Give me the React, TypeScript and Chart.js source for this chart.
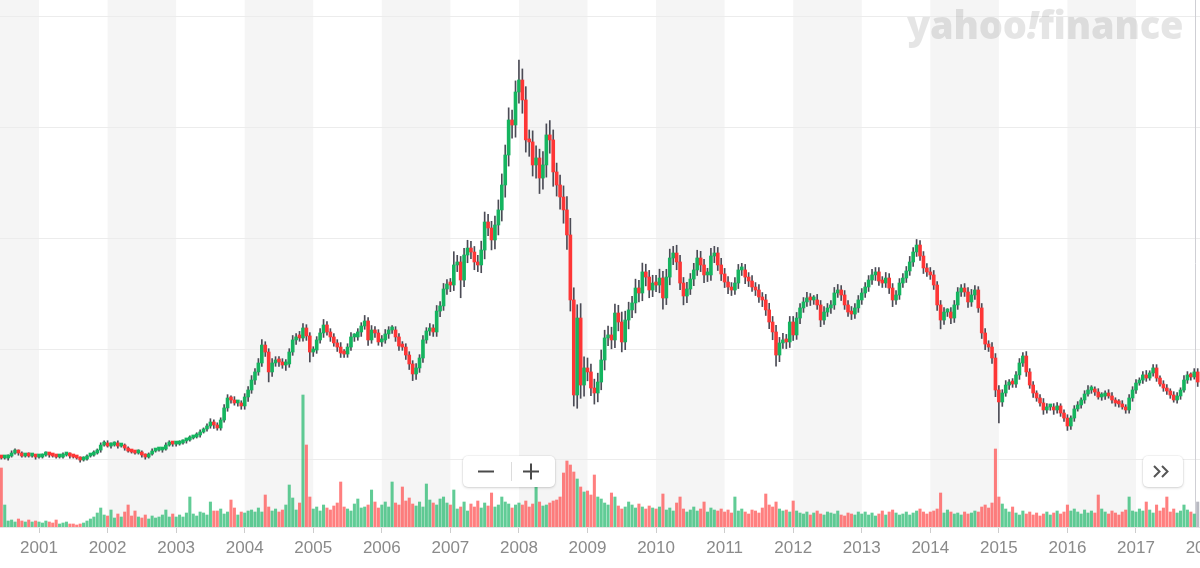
import React, { useEffect, useRef } from "react";
import { Chart, registerables } from "chart.js";

Chart.register(...registerables);

// ---- data (semi-monthly periods, 20 per year, starting mid-2000) ----
const periodStart = 2000.45;
const periodsPerYear = 20;
const firstOpen = 10.27;

const closes = [
  10.18, 10.18, 10.36, 10.63, 10.81, 10.63, 10.36, 10.45, 10.36, 10.36, 10.27,
  10.27, 10.45, 10.54, 10.45, 10.36, 10.27, 10.27, 10.45, 10.54, 10.36, 10.27, 10.18, 10.0, 10.09, 10.36, 10.45, 10.63, 10.9, 11.35, 11.54,
  11.26, 11.35, 11.54, 11.26, 11.35, 11.08, 10.81, 10.72, 10.63, 10.72, 10.45, 10.27, 10.54, 10.81, 10.9, 10.9, 10.99, 11.35, 11.54, 11.44,
  11.44, 11.54, 11.72, 11.81, 11.99, 12.08, 12.26, 12.53, 12.8, 13.07, 13.43, 13.16, 12.89, 13.61, 14.7, 15.6, 15.42, 15.15, 15.15, 14.88,
  15.69, 16.32, 17.22, 17.95, 18.76, 20.38, 19.75, 17.95, 18.76, 19.03, 18.85, 18.58, 18.67, 19.75, 20.84, 21.11, 21.02, 21.92, 21.2, 19.75,
  19.93, 20.84, 21.47, 22.19, 21.56, 21.11, 20.57, 20.2, 19.66, 19.57, 20.2, 21.11, 21.11, 21.56, 22.1, 22.55, 20.84, 21.74, 21.47, 20.66,
  20.84, 21.38, 21.74, 21.74, 21.11, 20.29, 20.2, 19.48, 18.67, 17.77, 18.31, 19.21, 20.84, 21.65, 21.92, 21.56, 23.45, 23.91, 25.44, 25.89,
  25.8, 27.61, 27.88, 26.25, 28.51, 29.14, 28.78, 27.88, 27.61, 28.96, 31.49, 30.95, 29.87, 31.22, 32.58, 34.83, 37.54, 40.7, 40.25, 43.23,
  44.31, 42.51, 38.9, 38.72, 36.64, 37.27, 35.46, 36.64, 39.35, 38.9, 36.01, 34.83, 33.75, 32.58, 30.32, 24.45, 15.87, 22.82, 16.77, 18.31,
  17.95, 16.5, 16.05, 17.04, 19.03, 21.02, 21.29, 20.84, 23.27, 22.46, 20.66, 22.64, 23.55, 24.18, 25.53, 25.08, 26.98, 26.52, 25.35, 25.98,
  25.8, 26.43, 24.63, 26.52, 28.24, 28.69, 27.88, 25.98, 24.81, 25.44, 26.34, 27.16, 28.24, 27.61, 26.71, 26.71, 28.42, 28.69, 27.61, 26.8,
  26.07, 25.62, 25.35, 25.98, 27.16, 27.16, 26.52, 26.16, 25.62, 25.35, 24.72, 24.45, 23.55, 22.46, 21.56, 19.48, 20.57, 20.84, 20.66, 22.46,
  21.29, 22.82, 23.73, 24.27, 24.63, 24.45, 24.45, 24.0, 22.64, 23.36, 23.73, 24.0, 25.08, 25.35, 24.9, 24.0, 23.36, 23.18, 23.73, 24.45,
  25.08, 25.62, 26.25, 26.71, 26.98, 26.16, 25.98, 26.43, 25.53, 24.45, 24.9, 25.98, 26.43, 27.07, 27.88, 28.78, 29.41, 28.42, 27.34, 26.98,
  26.71, 25.8, 24.0, 22.64, 23.36, 23.36, 22.82, 24.0, 25.17, 25.53, 25.17, 24.27, 24.9, 25.35, 23.73, 21.47, 20.47, 20.2, 19.21, 16.32,
  15.24, 16.05, 16.77, 16.95, 16.86, 17.68, 18.76, 19.39, 17.95, 16.77, 16.05, 15.6, 15.15, 14.52, 14.79, 14.79, 14.52, 14.88, 14.24, 13.79,
  13.07, 13.79, 14.61, 14.97, 15.42, 15.96, 16.32, 16.41, 16.14, 15.69, 15.78, 16.05, 15.78, 15.42, 15.15, 15.06, 14.79, 14.52, 15.6, 16.32,
  16.95, 17.22, 17.68, 17.4, 17.86, 18.31, 17.4, 16.86, 16.5, 16.23, 15.87, 15.42, 15.78, 16.32, 17.22, 17.68, 17.5, 17.95, 17.04,
];

// wick length above the body / below the body (price units)
const wickUp = [
  0.1, 0.2, 0.1, 0.2, 0.2, 0.1, 0.1, 0.1, 0.2, 0.1, 0.1,
  0.1, 0.1, 0.2, 0.1, 0.1, 0.1, 0.1, 0.2, 0.1, 0.1, 0.1, 0.1, 0.1, 0.2, 0.1, 0.1, 0.2, 0.1, 0.2, 0.2,
  0.2, 0.2, 0.1, 0.2, 0.1, 0.1, 0.1, 0.1, 0.1, 0.2, 0.1, 0.1, 0.1, 0.2, 0.1, 0.1, 0.1, 0.2, 0.2, 0.1,
  0.1, 0.2, 0.1, 0.1, 0.2, 0.1, 0.2, 0.2, 0.1, 0.2, 0.3, 0.2, 0.2, 0.2, 0.3, 0.3, 0.2, 0.3, 0.2, 0.2,
  0.3, 0.3, 0.4, 0.3, 0.4, 0.5, 0.3, 0.3, 0.4, 0.3, 0.3, 0.3, 0.4, 0.3, 0.4, 0.3, 0.5, 0.4, 0.3, 0.3,
  0.3, 0.3, 0.4, 0.5, 0.3, 0.3, 0.3, 0.3, 0.4, 0.3, 0.3, 0.4, 0.3, 0.3, 0.3, 0.5, 0.3, 0.4, 0.3, 0.3,
  0.4, 0.4, 0.3, 0.4, 0.3, 0.3, 0.4, 0.3, 0.3, 0.3, 0.4, 0.3, 0.4, 0.3, 0.4, 0.3, 0.5, 0.4, 0.5, 0.4,
  0.5, 1.2, 0.6, 0.5, 0.6, 0.7, 0.6, 0.5, 0.6, 0.8, 0.9, 0.7, 0.6, 0.8, 0.9, 1.0, 0.9, 1.1, 0.9, 1.0,
  1.8, 1.0, 1.2, 0.9, 1.0, 1.1, 0.8, 1.2, 1.0, 1.3, 0.9, 0.8, 0.9, 1.0, 1.2, 1.5, 1.1, 1.2, 1.3, 1.0,
  0.9, 0.7, 0.8, 0.8, 0.9, 0.7, 0.8, 0.7, 0.8, 0.7, 0.9, 0.8, 0.7, 0.6, 0.8, 0.7, 0.8, 0.7, 0.6, 0.7,
  0.7, 0.8, 0.6, 0.7, 0.8, 0.6, 0.7, 0.6, 0.5, 0.6, 0.5, 0.6, 0.7, 0.6, 0.5, 0.6, 0.7, 0.6, 0.5, 0.6,
  0.5, 0.5, 0.4, 0.5, 0.5, 0.6, 0.5, 0.4, 0.5, 0.4, 0.5, 0.4, 0.5, 0.6, 0.5, 0.6, 0.5, 0.6, 0.5, 0.5,
  0.5, 0.5, 0.4, 0.4, 0.5, 0.4, 0.4, 0.5, 0.4, 0.5, 0.4, 0.4, 0.5, 0.5, 0.4, 0.4, 0.4, 0.5, 0.4, 0.4,
  0.4, 0.4, 0.4, 0.5, 0.4, 0.4, 0.4, 0.5, 0.4, 0.4, 0.4, 0.4, 0.4, 0.4, 0.5, 0.4, 0.5, 0.4, 0.4, 0.4,
  0.4, 0.4, 0.3, 0.4, 0.4, 0.3, 0.4, 0.4, 0.4, 0.3, 0.4, 0.4, 0.5, 0.4, 0.3, 0.4, 0.4, 0.3, 0.4, 0.4,
  0.4, 0.3, 0.4, 0.3, 0.4, 0.3, 0.4, 0.3, 0.4, 0.3, 0.3, 0.2, 0.3, 0.4, 0.3, 0.2, 0.3, 0.3, 0.2, 0.3,
  0.3, 0.2, 0.3, 0.3, 0.2, 0.3, 0.4, 0.3, 0.2, 0.3, 0.3, 0.2, 0.3, 0.3, 0.2, 0.3, 0.3, 0.2, 0.3, 0.3,
  0.3, 0.2, 0.3, 0.4, 0.2, 0.3, 0.3, 0.2, 0.3, 0.3, 0.2, 0.3, 0.3, 0.2, 0.4, 0.3, 0.2, 0.3, 0.3,
];

const wickDown = [
  0.1, 0.1, 0.2, 0.1, 0.1, 0.2, 0.1, 0.1, 0.1, 0.1, 0.2,
  0.1, 0.1, 0.1, 0.2, 0.1, 0.1, 0.1, 0.1, 0.1, 0.2, 0.1, 0.1, 0.2, 0.1, 0.1, 0.1, 0.1, 0.1, 0.2, 0.1,
  0.1, 0.2, 0.1, 0.2, 0.1, 0.2, 0.1, 0.1, 0.1, 0.1, 0.2, 0.2, 0.1, 0.1, 0.1, 0.1, 0.2, 0.1, 0.1, 0.2,
  0.2, 0.1, 0.1, 0.2, 0.1, 0.1, 0.1, 0.2, 0.1, 0.2, 0.2, 0.3, 0.2, 0.2, 0.2, 0.3, 0.3, 0.2, 0.3, 0.3,
  0.3, 0.4, 0.3, 0.4, 0.3, 0.3, 0.4, 0.9, 0.4, 0.3, 0.4, 0.3, 0.5, 0.3, 0.3, 0.4, 0.3, 0.3, 0.4, 0.9,
  0.4, 0.3, 0.3, 0.4, 0.3, 0.4, 0.3, 0.4, 0.4, 0.3, 0.3, 0.3, 0.4, 0.3, 0.4, 0.3, 0.5, 0.3, 0.4, 0.3,
  0.4, 0.3, 0.4, 0.3, 0.4, 0.4, 0.3, 0.4, 0.5, 0.6, 0.5, 0.4, 0.4, 0.3, 0.4, 0.4, 0.4, 0.5, 0.4, 0.5,
  0.6, 0.5, 0.6, 1.6, 0.6, 0.7, 0.6, 0.7, 0.6, 0.7, 0.8, 0.7, 0.9, 0.8, 0.9, 1.0, 1.1, 1.0, 1.2, 1.1,
  1.0, 1.2, 1.1, 1.3, 1.0, 1.2, 1.4, 1.0, 1.1, 1.2, 1.3, 1.0, 1.1, 1.2, 1.3, 1.0, 1.0, 1.2, 1.2, 1.0,
  0.8, 0.7, 1.0, 0.8, 0.7, 0.9, 0.7, 0.8, 0.7, 0.8, 0.9, 0.7, 0.8, 0.7, 0.9, 0.8, 0.7, 0.8, 0.7, 0.6,
  0.6, 0.7, 1.0, 0.6, 0.7, 0.6, 0.7, 0.6, 0.8, 0.6, 0.5, 0.6, 0.5, 0.6, 0.7, 0.6, 0.5, 0.6, 0.5, 0.6,
  0.5, 0.6, 0.5, 0.4, 0.5, 0.5, 0.6, 0.5, 0.4, 0.5, 0.5, 0.6, 0.5, 0.6, 0.7, 1.0, 0.6, 0.5, 0.6, 0.5,
  0.5, 0.4, 0.5, 0.4, 0.4, 0.5, 0.4, 0.4, 0.6, 0.4, 0.4, 0.5, 0.4, 0.4, 0.5, 0.4, 0.4, 0.5, 0.4, 0.4,
  0.4, 0.4, 0.4, 0.4, 0.5, 0.4, 0.4, 0.4, 0.5, 0.6, 0.4, 0.4, 0.4, 0.4, 0.4, 0.4, 0.4, 0.4, 0.5, 0.4,
  0.4, 0.4, 0.5, 0.8, 0.4, 0.4, 0.5, 0.4, 0.4, 0.4, 0.4, 0.5, 0.4, 0.4, 0.4, 0.5, 0.5, 0.4, 0.5, 0.6,
  1.9, 0.4, 0.3, 0.4, 0.3, 0.3, 0.4, 0.3, 0.4, 0.3, 0.4, 0.3, 0.3, 0.4, 0.3, 0.3, 0.4, 0.3, 0.3, 0.3,
  0.4, 0.3, 0.3, 0.2, 0.3, 0.3, 0.2, 0.3, 0.3, 0.2, 0.3, 0.3, 0.2, 0.3, 0.3, 0.3, 0.2, 0.3, 0.3, 0.3,
  0.3, 0.2, 0.3, 0.3, 0.2, 0.3, 0.3, 0.2, 0.3, 0.3, 0.3, 0.2, 0.3, 0.3, 0.2, 0.3, 0.3, 0.2, 0.4,
];

// volume (millions)
const volumes = [
  5.9, 2.2, 0.6, 0.7, 0.5, 0.8, 0.6, 0.5, 0.7, 0.5, 0.6,
  0.5, 0.4, 0.6, 0.5, 0.4, 0.7, 0.3, 0.4, 0.5, 0.3, 0.3, 0.2, 0.3, 0.4, 0.6, 0.8, 1.0, 1.4, 1.9, 1.2,
  1.1, 1.7, 0.9, 1.3, 1.0, 1.5, 2.2, 1.1, 1.6, 1.0, 0.9, 1.2, 0.8, 1.1, 0.9, 1.0, 1.2, 1.7, 1.0, 1.3,
  1.0, 1.2, 1.0, 1.4, 3.0, 1.3, 1.1, 1.5, 1.4, 1.2, 2.5, 1.6, 1.6, 1.8, 1.3, 1.5, 2.7, 1.9, 1.2, 1.5,
  1.4, 1.6, 1.7, 1.5, 1.9, 1.5, 3.2, 2.0, 1.6, 1.8, 1.5, 1.7, 2.2, 4.2, 2.9, 1.7, 2.4, 13.2, 8.2, 3.0,
  1.8, 2.0, 1.6, 2.2, 1.9, 1.7, 2.1, 2.4, 4.5, 2.0, 1.8, 1.6, 2.3, 2.8, 1.9, 2.0, 2.2, 3.7, 2.5, 1.9,
  2.2, 2.5, 2.0, 4.5, 2.4, 2.2, 4.0, 2.6, 2.9, 2.3, 2.1, 2.5, 2.0, 4.3, 2.7, 2.4, 2.2, 2.8, 3.0, 2.4,
  2.2, 3.7, 1.8, 2.0, 2.5, 1.6, 2.3, 2.0, 2.6, 1.9, 2.4, 2.1, 3.4, 2.0, 2.2, 3.0, 2.5, 2.3, 1.9, 2.2,
  2.4, 2.2, 2.6, 2.0, 2.3, 4.0, 2.5, 2.1, 2.2, 2.4, 2.6, 2.7, 3.0, 5.4, 6.6, 6.2, 5.5, 4.8, 4.0, 3.5,
  3.6, 3.2, 5.2, 3.0, 2.8, 2.4, 2.2, 3.4, 3.0, 2.1, 1.8, 2.0, 2.5, 2.2, 1.9, 2.3, 2.0, 1.8, 2.1, 1.9,
  1.8, 2.0, 3.3, 1.7, 1.9, 1.6, 2.4, 3.0, 1.8, 1.5, 1.7, 2.0, 1.6, 1.8, 2.5, 1.5, 1.9, 1.7, 1.6, 1.8,
  1.5, 1.7, 1.4, 3.0, 1.6, 1.8, 1.5, 1.3, 1.7, 1.6, 1.4, 1.9, 3.3, 2.2, 2.0, 2.5, 1.8, 1.6, 1.7, 1.5,
  2.6, 1.6, 1.4, 1.3, 1.5, 1.2, 1.4, 1.6, 1.3, 1.2, 1.5, 1.4, 1.3, 1.6, 1.2, 1.1, 1.4, 1.3, 1.2, 1.5,
  1.3, 1.5, 1.2, 1.4, 1.1, 1.3, 1.6, 1.2, 1.5, 1.7, 1.4, 1.2, 1.3, 1.5, 1.2, 1.4, 1.6, 1.8, 1.5, 1.3,
  1.5, 1.6, 1.8, 3.4, 1.4, 1.7, 1.5, 1.3, 1.4, 1.2, 1.5, 1.3, 1.4, 1.6, 1.5, 2.0, 2.2, 1.9, 2.4, 7.8,
  3.0, 2.3, 1.8, 1.5, 2.0, 1.4, 1.2, 1.6, 1.3, 1.5, 1.2, 1.4, 1.1, 1.3, 1.5, 1.2, 1.4, 1.6, 1.3, 1.5,
  2.2, 1.6, 1.8, 1.5, 1.3, 1.7, 1.4, 1.6, 1.4, 3.2, 1.8, 1.5, 1.3, 1.6, 1.4, 1.2, 1.5, 1.7, 3.0, 1.6,
  1.5, 1.8, 1.6, 2.5, 1.7, 1.4, 2.2, 1.6, 1.9, 3.0, 1.5, 1.8, 1.4, 1.6, 2.2, 1.7, 1.5, 1.3, 2.5,
];

const yearTicks = [2001, 2002, 2003, 2004, 2005, 2006, 2007, 2008, 2009, 2010, 2011, 2012, 2013, 2014, 2015, 2016, 2017, 2018];
const shadedYears = [2000, 2002, 2004, 2006, 2008, 2010, 2012, 2014, 2016, 2018];
const priceTicks = [10, 20, 30, 40, 50];

const X_MIN = 2000.431;
const X_MAX = 2018.517;
const PRICE_MIN = 3.95;
const PRICE_MAX = 51.535;
const VOL_MAX = 52.7;

const GREEN = "#15b45f";
const RED = "#fd3636";
const WICK = "#4b4b55";
const VOL_GREEN = "rgba(30,182,105,0.7)";
const VOL_RED = "rgba(255,72,72,0.7)";
const VOL_LAST = "#b9bac2";

export default function App() {
  const canvasRef = useRef<HTMLCanvasElement | null>(null);

  useEffect(() => {
    document.body.style.margin = "0";
    const canvas = canvasRef.current;
    if (!canvas) return;

    const times = closes.map((_, i) => periodStart + i / periodsPerYear);
    const opens = closes.map((c, i) => (i === 0 ? firstOpen : closes[i - 1]));
    const rising = closes.map((c, i) => c >= opens[i]);
    const last = closes.length - 1;

    const bodies = closes.map((c, i) => ({ x: times[i], y: [opens[i], c] }));
    const wicks = closes.map((c, i) => ({
      x: times[i],
      y: [Math.min(opens[i], c) - wickDown[i], Math.max(opens[i], c) + wickUp[i]],
    }));
    const vols = volumes.map((v, i) => ({ x: times[i], y: v }));

    const bandsPlugin = {
      id: "yearBands",
      beforeDraw(chart: any) {
        const { ctx, chartArea, scales } = chart;
        ctx.save();
        ctx.fillStyle = "#f5f5f5";
        for (const yr of shadedYears) {
          const x0 = Math.max(scales.x.getPixelForValue(yr), chartArea.left);
          const x1 = Math.min(scales.x.getPixelForValue(yr + 1), chartArea.right);
          if (x1 > x0) ctx.fillRect(x0, chartArea.top, x1 - x0, chartArea.bottom - chartArea.top);
        }
        ctx.restore();
      },
      beforeDatasetsDraw(chart: any) {
        const { ctx, chartArea, scales } = chart;
        const xp = Math.round(scales.x.getPixelForValue(times[last])) - 2.5;
        ctx.save();
        ctx.strokeStyle = "#cfcfd4";
        ctx.lineWidth = 1;
        ctx.beginPath();
        ctx.moveTo(xp, chartArea.top);
        ctx.lineTo(xp, chartArea.bottom);
        ctx.stroke();
        ctx.restore();
      },
    };

    const chart = new Chart(canvas, {
      type: "bar",
      data: {
        datasets: [
          {
            label: "body",
            data: bodies as any,
            yAxisID: "y",
            grouped: false,
            order: 0,
            barThickness: 3,
            minBarLength: 3,
            backgroundColor: (ctx: any) => (rising[ctx.dataIndex] ? GREEN : RED),
            borderWidth: 0,
          },
          {
            label: "wick",
            data: wicks as any,
            yAxisID: "y",
            grouped: false,
            order: 1,
            barThickness: 1,
            backgroundColor: WICK,
            borderWidth: 0,
          },
          {
            label: "volume",
            data: vols as any,
            yAxisID: "yv",
            grouped: false,
            order: 2,
            barThickness: 2.4,
            backgroundColor: (ctx: any) =>
              ctx.dataIndex === last ? VOL_LAST : rising[ctx.dataIndex] ? VOL_GREEN : VOL_RED,
            borderWidth: 0,
          },
        ] as any,
      },
      options: {
        animation: false,
        responsive: true,
        maintainAspectRatio: false,
        layout: { padding: 0 },
        plugins: { legend: { display: false }, tooltip: { enabled: false } },
        events: [],
        scales: {
          x: {
            type: "linear",
            min: X_MIN,
            max: X_MAX,
            offset: false,
            afterBuildTicks: (s: any) => {
              s.ticks = yearTicks.map((v) => ({ value: v }));
            },
            afterFit: (s: any) => {
              s.height = 41;
            },
            grid: {
              drawOnChartArea: false,
              drawTicks: true,
              tickLength: 6,
              tickColor: "#cdcdcd",
              offset: false,
            },
            border: { display: true, color: "#e4e4e4" },
            ticks: {
              autoSkip: false,
              maxRotation: 0,
              padding: 5,
              color: "#8a8a8a",
              font: { family: "'Liberation Sans', Arial, sans-serif", size: 17 },
              callback: (v: any) => String(v),
            },
          },
          y: {
            type: "linear",
            position: "right",
            min: PRICE_MIN,
            max: PRICE_MAX,
            afterBuildTicks: (s: any) => {
              s.ticks = priceTicks.map((v) => ({ value: v }));
            },
            afterFit: (s: any) => {
              s.width = 0;
            },
            ticks: { display: false },
            grid: { color: "#ececec", drawTicks: false },
            border: { display: false },
          },
          yv: {
            type: "linear",
            display: false,
            min: 0,
            max: VOL_MAX,
          },
        },
      } as any,
      plugins: [bandsPlugin],
    });

    return () => chart.destroy();
  }, []);

  const box: React.CSSProperties = {
    position: "absolute",
    background: "#ffffff",
    borderRadius: 5,
    boxShadow: "0 1px 3px rgba(0,0,0,0.16), 0 0 0 1px rgba(0,0,0,0.04)",
  };

  return (
    <div style={{ position: "relative", width: 1200, height: 568, overflow: "hidden", background: "#fff" }}>
      <div style={{ position: "absolute", left: 0, top: 0, width: 1240, height: 568 }}>
        <canvas ref={canvasRef} />
      </div>

      <div
        style={{
          position: "absolute",
          left: 907,
          top: 5,
          fontFamily: "'Open Sans', 'DejaVu Sans', sans-serif",
          fontWeight: 800,
          fontSize: 38,
          lineHeight: "38px",
          letterSpacing: -0.2,
          color: "rgba(0,0,0,0.1)",
          pointerEvents: "none",
          whiteSpace: "nowrap",
        }}
      >
        yahoo<span style={{ fontStyle: "italic" }}>!</span>finance
      </div>

      <div style={{ ...box, left: 463, top: 456, width: 92, height: 31 }}>
        <svg width="92" height="31" style={{ display: "block" }}>
          <line x1="15" y1="15.5" x2="31" y2="15.5" stroke="#4a4a4a" strokeWidth="2" />
          <line x1="48.5" y1="6" x2="48.5" y2="25" stroke="#dcdcdc" strokeWidth="1" />
          <line x1="60" y1="15.5" x2="76" y2="15.5" stroke="#4a4a4a" strokeWidth="2" />
          <line x1="68" y1="7.5" x2="68" y2="23.5" stroke="#4a4a4a" strokeWidth="2" />
        </svg>
      </div>

      <div style={{ ...box, left: 1143, top: 456, width: 40, height: 31 }}>
        <svg width="40" height="31" style={{ display: "block" }}>
          <polyline points="11,10 16.5,15.5 11,21" fill="none" stroke="#555" strokeWidth="2" />
          <polyline points="19,10 24.5,15.5 19,21" fill="none" stroke="#555" strokeWidth="2" />
        </svg>
      </div>
    </div>
  );
}
